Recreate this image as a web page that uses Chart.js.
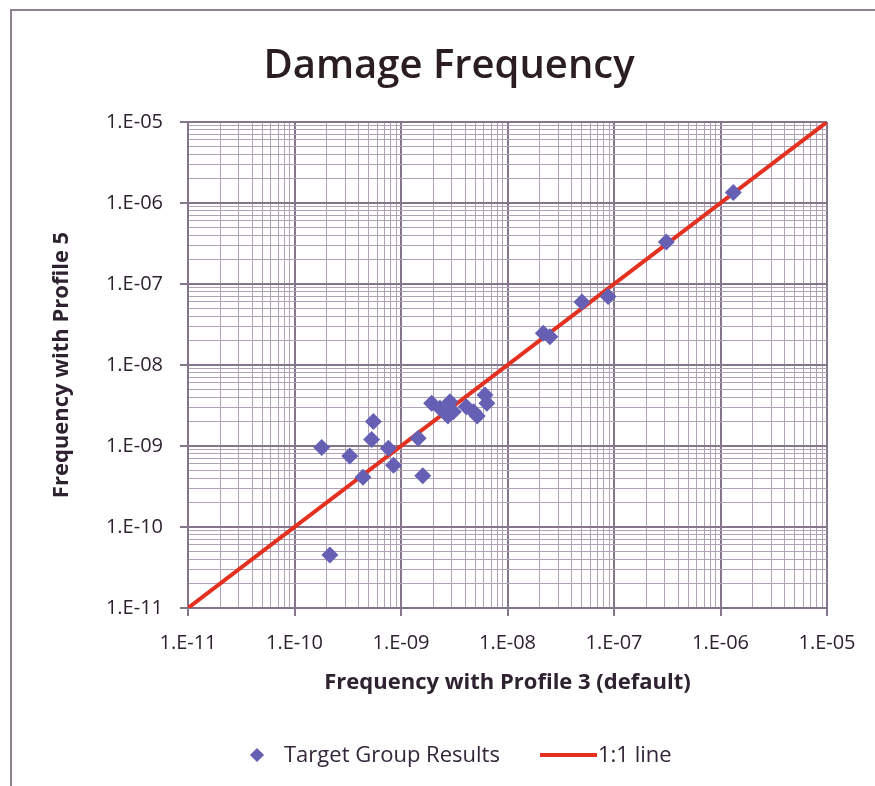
<!DOCTYPE html>
<html>
<head>
<meta charset="utf-8">
<script src="https://cdn.jsdelivr.net/npm/chart.js@4/dist/chart.umd.min.js"></script>
<style>
  html, body { margin: 0; padding: 0; background: #fff; }
  #wrap { position: relative; width: 875px; height: 786px; overflow: hidden; font-family: "Open Sans", sans-serif; }
  #frame { position: absolute; left: 10px; top: 9px; width: 900px; height: 820px; border: 2px solid #8e828f; box-sizing: border-box; }
  #chart { position: absolute; left: 0; top: 0; }
  #title { position: absolute; left: 249px; width: 400px; top: 36px; text-align: center; font-size: 40px; font-weight: 600; line-height: 54px; color: #2a1d24; }
  #legend { position: absolute; top: 738px; left: 0; width: 875px; height: 34px; color: #33263a; font-size: 22px; }
  .diamond { position: absolute; left: 252px; top: 12px; width: 10px; height: 10px; background: #6660b5; transform: rotate(45deg); }
  .lbl1 { position: absolute; left: 284px; top: 0; }
  .redline { position: absolute; left: 540px; top: 15px; width: 57px; height: 4px; background: #e3301f; }
  .lbl2 { position: absolute; left: 598px; top: 0; }
</style>
</head>
<body>
<div id="wrap">
  <div id="frame"></div>
  <canvas id="chart" width="875" height="786"></canvas>
  <div id="title">Damage Frequency</div>
  <div id="legend">
    <div class="diamond"></div><span class="lbl1">Target Group Results</span>
    <div class="redline"></div><span class="lbl2">1:1 line</span>
  </div>
</div>
<script>
// Damage frequency: profile 3 (x) vs profile 5 (y)
const profile3 = [
  1.8e-10, 3.3e-10, 5.5e-10, 5.3e-10, 7.6e-10, 8.5e-10, 4.4e-10, 1.45e-9, 1.6e-9, 2.15e-10,
  1.94e-9, 2.32e-9, 2.88e-9, 3.1e-9, 4.1e-9, 4.8e-9, 6.15e-9, 6.4e-9, 2.76e-9, 5.2e-9,
  2.17e-8, 2.5e-8, 5.0e-8, 8.8e-8, 3.1e-7, 1.32e-6
];
const profile5 = [
  9.6e-10, 7.5e-10, 2.0e-9, 1.2e-9, 9.4e-10, 5.8e-10, 4.1e-10, 1.25e-9, 4.3e-10, 4.5e-11,
  3.36e-9, 2.92e-9, 3.52e-9, 2.65e-9, 3.05e-9, 2.65e-9, 4.27e-9, 3.36e-9, 2.34e-9, 2.34e-9,
  2.46e-8, 2.24e-8, 6.0e-8, 7.0e-8, 3.3e-7, 1.35e-6
];
const oneToOne = [1e-11, 1e-5];
const decades = [-11, -10, -9, -8, -7, -6, -5];
const tickLabels = ['1.E-11', '1.E-10', '1.E-09', '1.E-08', '1.E-07', '1.E-06', '1.E-05'];

const majorGrid = '#85758a';
const minorGrid = '#b0a2b4';
const textCol = '#2e2230';

// 1..9 x 10^e for every decade, up to the last power of ten
function logTicks(scale) {
  const t = [];
  decades.forEach((e, i) => {
    if (i === decades.length - 1) { t.push({ value: Math.pow(10, e), major: true }); return; }
    for (let m = 1; m <= 9; m++) t.push({ value: m * Math.pow(10, e), major: m === 1 });
  });
  scale.ticks = t;
}

function labelFor(v) {
  const e = Math.round(Math.log10(v));
  if (Math.abs(v - Math.pow(10, e)) > Math.pow(10, e) * 1e-6) return '';
  const i = decades.indexOf(e);
  return i >= 0 ? tickLabels[i] : '';
}

function gridOpts() {
  return {
    color: ctx => ctx.tick && ctx.tick.major ? majorGrid : minorGrid,
    lineWidth: ctx => ctx.tick && ctx.tick.major ? 2 : 1,
    tickColor: ctx => ctx.tick && ctx.tick.major ? majorGrid : 'rgba(0,0,0,0)',
    tickLength: 8
  };
}

const ctx = document.getElementById('chart').getContext('2d');
new Chart(ctx, {
  data: {
    datasets: [
      {
        type: 'scatter',
        label: 'Target Group Results',
        data: profile3.map((x, i) => ({ x, y: profile5[i] })),
        pointStyle: 'rectRot',
        pointRadius: 8.5,
        backgroundColor: '#6660b5',
        borderColor: '#6660b5',
        borderWidth: 0,
        order: 1
      },
      {
        type: 'line',
        label: '1:1 line',
        data: oneToOne.map(v => ({ x: v, y: v })),
        borderColor: '#e3301f',
        borderWidth: 4,
        pointRadius: 0,
        order: 2
      }
    ]
  },
  options: {
    responsive: false,
    animation: false,
    layout: { padding: { left: 10, right: 48, top: 122, bottom: 88 } },
    plugins: {
      legend: { display: false },
      tooltip: { enabled: false }
    },
    scales: {
      x: {
        type: 'logarithmic',
        min: 1e-11,
        max: 1e-5,
        afterBuildTicks: logTicks,
        afterFit: s => { s.height = 90; },
        grid: gridOpts(),
        border: { color: majorGrid, width: 2 },
        ticks: {
          autoSkip: false, maxRotation: 0, padding: 15, color: textCol,
          font: { family: 'Open Sans', size: 20 },
          callback: v => labelFor(v)
        },
        title: {
          display: true,
          text: 'Frequency with Profile 3 (default)',
          color: textCol,
          font: { family: 'Open Sans', size: 22, weight: 'bold', lineHeight: 1.2 },
          padding: { top: 0, bottom: 2 }
        }
      },
      y: {
        type: 'logarithmic',
        min: 1e-11,
        max: 1e-5,
        afterBuildTicks: logTicks,
        afterFit: s => { s.width = 178; },
        grid: gridOpts(),
        border: { color: majorGrid, width: 2 },
        ticks: {
          autoSkip: false, padding: 17, color: textCol,
          font: { family: 'Open Sans', size: 20 },
          callback: v => labelFor(v)
        },
        title: {
          display: true,
          text: 'Frequency with Profile 5',
          color: textCol,
          font: { family: 'Open Sans', size: 22, weight: 'bold', lineHeight: 1.2 },
          padding: { top: 39, bottom: 0 }
        }
      }
    }
  }
});
</script>
</body>
</html>
